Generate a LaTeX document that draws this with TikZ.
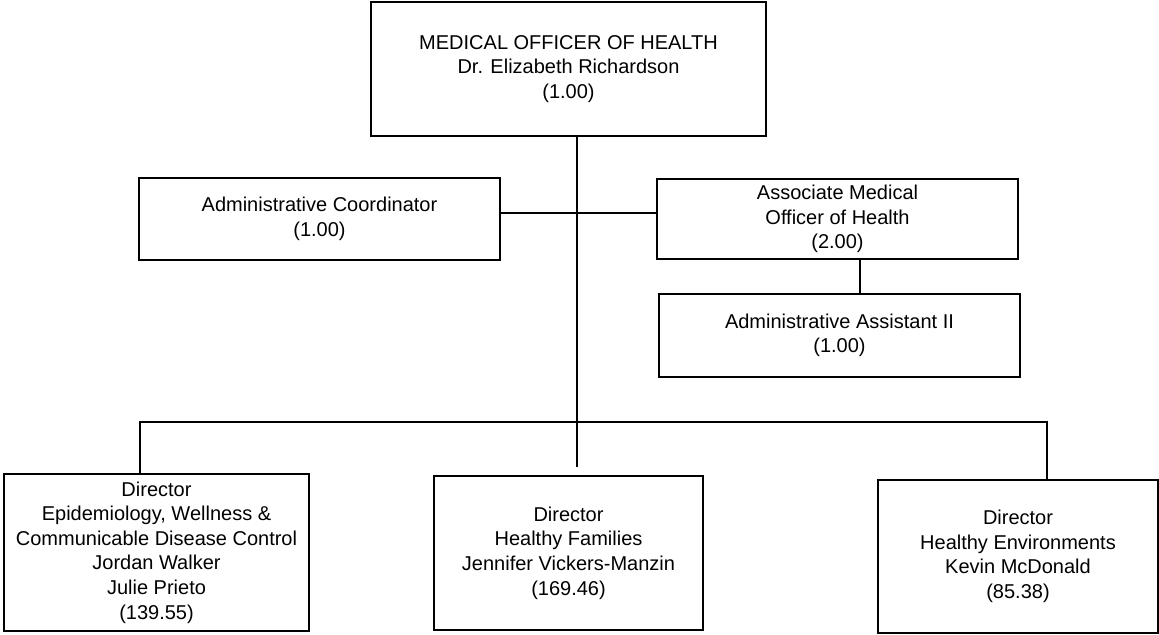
\documentclass[tikz,border=0pt]{standalone}
\usepackage{fontspec}
\setmainfont{Liberation Sans}
\usepackage{tikz}
\usetikzlibrary{positioning}
\tikzset{
  orgbox/.style={draw, line width=0.9pt, align=center, inner sep=0pt},
  orglink/.style={line width=0.9pt}
}

\begin{document}
\begin{tikzpicture}[x=0.5pt,y=-0.5pt,font=\fontsize{10}{12.3}\selectfont]
  \useasboundingbox (0,0) rectangle (1159,635);

  % top row
  \node[orgbox, minimum width=197.5pt, minimum height=67pt] (moh) at (568.5,69)
    {MEDICAL OFFICER OF HEALTH\\Dr. Elizabeth Richardson\\(1.00)};

  % staff row
  \node[orgbox, minimum width=180.5pt, minimum height=41pt] (admcoord) at (319.5,219)
    {Administrative Coordinator\\(1.00)};
  \node[orgbox, minimum width=180.5pt, minimum height=40pt] (amoh) at (837.5,219)
    {Associate Medical\\Officer of Health\\(2.00)};
  \node[orgbox, minimum width=180.5pt, minimum height=41.5pt] (admasst) at (839.5,335.5)
    {Administrative Assistant II\\(1.00)};

  % directors
  \node[orgbox, minimum width=152.5pt, minimum height=78.5pt] (epi) at (156.5,552.5)
    {Director\\Epidemiology, Wellness \&\\Communicable Disease Control\\Jordan Walker\\Julie Prieto\\(139.55)};
  \node[orgbox, minimum width=134.5pt, minimum height=77pt] (fam) at (568.5,553)
    {Director\\Healthy Families\\Jennifer Vickers-Manzin\\(169.46)};
  \node[orgbox, minimum width=140pt, minimum height=76.5pt] (env) at (1018,556.5)
    {Director\\Healthy Environments\\Kevin McDonald\\(85.38)};

  \coordinate (trunk) at (577,467);
  \coordinate (staffbar) at (577,213);
  \coordinate (asstlink) at (860,0);
  \coordinate (busL) at (140,422);
  \coordinate (busR) at (1047,422);

  \draw[orglink] (moh.south -| trunk) -- (trunk);
  \draw[orglink] (admcoord.east |- staffbar) -- (amoh.west |- staffbar);
  \draw[orglink] (amoh.south -| asstlink) -- (admasst.north -| asstlink);
  \draw[orglink] (epi.north -| busL) -- (busL) -- (busR) -- (env.north -| busR);
\end{tikzpicture}
\end{document}
